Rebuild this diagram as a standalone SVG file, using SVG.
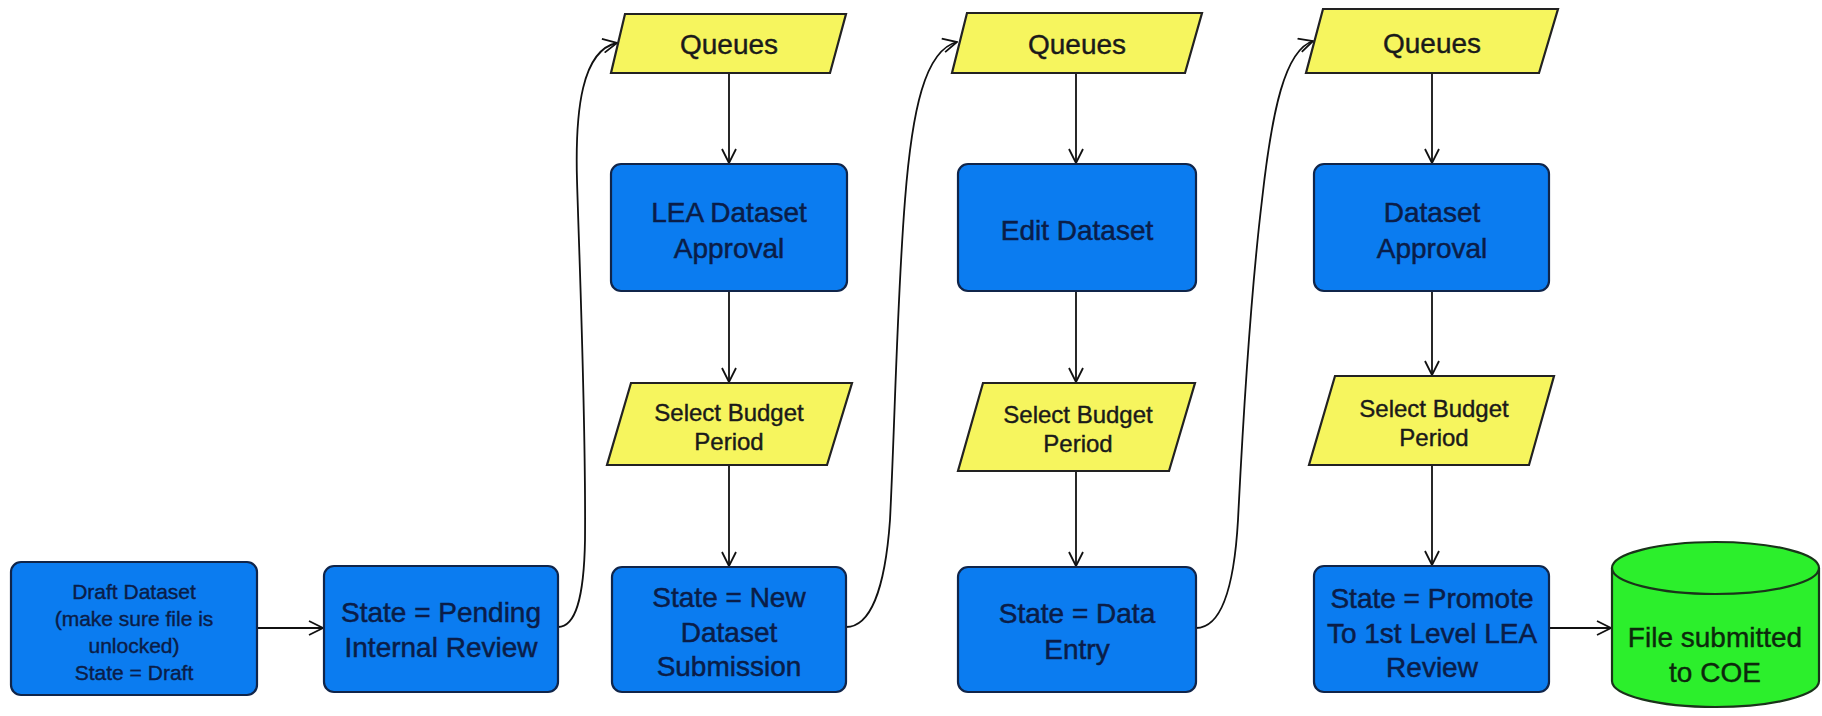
<svg xmlns="http://www.w3.org/2000/svg" width="1822" height="716" viewBox="0 0 1822 716">
<defs>
<marker id="arr" markerUnits="userSpaceOnUse" viewBox="0 0 16 16" refX="15" refY="8" markerWidth="16" markerHeight="16" orient="auto">
<path d="M1,1 L15,8 L1,15" fill="none" stroke="#111" stroke-width="1.8"/>
</marker>
<style>
.box{fill:#0b7cf0;stroke:#10254a;stroke-width:2.2}
.io{fill:#f6f55e;stroke:#222;stroke-width:2.2}
.db{fill:#2cef2c;stroke:#1a331a;stroke-width:2.2}
.t{font-family:"Liberation Sans",Arial,sans-serif;font-size:28px;fill:#0a1d48;stroke:#0a1d48;stroke-width:0.5;text-anchor:middle}
.ts{font-family:"Liberation Sans",Arial,sans-serif;font-size:21px;fill:#0a1d48;stroke:#0a1d48;stroke-width:0.4;text-anchor:middle}
.ty{font-family:"Liberation Sans",Arial,sans-serif;font-size:28px;fill:#1a1a1a;stroke:#1a1a1a;stroke-width:0.4;text-anchor:middle}
.tyy{font-family:"Liberation Sans",Arial,sans-serif;font-size:24px;fill:#1a1a1a;stroke:#1a1a1a;stroke-width:0.4;text-anchor:middle}
.tg{font-family:"Liberation Sans",Arial,sans-serif;font-size:28px;fill:#0c280c;stroke:#0c280c;stroke-width:0.4;text-anchor:middle}
.c{fill:none;stroke:#111;stroke-width:1.8;marker-end:url(#arr)}
</style>
</defs>
<rect width="1822" height="716" fill="#ffffff"/>

<g id="connectors">
<path class="c" d="M257,628 L323,628"/>
<path class="c" d="M558,627 C575,627 584,600 585,540 C586,420 580,280 577,180 C575,110 582,50 617,43"/>
<path class="c" d="M729,73 L729,163"/>
<path class="c" d="M729,291 L729,382"/>
<path class="c" d="M729,465 L729,566"/>
<path class="c" d="M846,627 C870,627 885,590 890,520 C895,420 897,300 905,200 C912,110 925,50 957,42"/>
<path class="c" d="M1076,73 L1076,163"/>
<path class="c" d="M1076,291 L1076,382"/>
<path class="c" d="M1076,471 L1076,566"/>
<path class="c" d="M1196,628 C1220,628 1234,590 1238,520 C1243,420 1250,300 1262,200 C1272,110 1285,50 1313,41"/>
<path class="c" d="M1432,73 L1432,163"/>
<path class="c" d="M1432,291 L1432,375"/>
<path class="c" d="M1432,465 L1432,565"/>
<path class="c" d="M1549,628 L1611,628"/>
</g>

<g id="draft">
<rect class="box" x="11" y="562" width="246" height="133" rx="10"/>
<text class="ts" x="134" y="599">Draft Dataset</text>
<text class="ts" x="134" y="626">(make sure file is</text>
<text class="ts" x="134" y="653">unlocked)</text>
<text class="ts" x="134" y="680">State = Draft</text>
</g>

<g id="pending">
<rect class="box" x="324" y="566" width="234" height="126" rx="10"/>
<text class="t" x="441" y="622">State = Pending</text>
<text class="t" x="441" y="657">Internal Review</text>
</g>

<g id="queues1">
<polygon class="io" points="611,73 830,73 846,14 625,14"/>
<text class="ty" x="729" y="54">Queues</text>
</g>
<g id="lea-approval">
<rect class="box" x="611" y="164" width="236" height="127" rx="10"/>
<text class="t" x="729" y="222">LEA Dataset</text>
<text class="t" x="729" y="258">Approval</text>
</g>
<g id="budget1">
<polygon class="io" points="607,465 827,465 852,383 631,383"/>
<text class="tyy" x="729" y="421">Select Budget</text>
<text class="tyy" x="729" y="450">Period</text>
</g>
<g id="new-submission">
<rect class="box" x="612" y="567" width="234" height="125" rx="10"/>
<text class="t" x="729" y="607">State = New</text>
<text class="t" x="729" y="642">Dataset</text>
<text class="t" x="729" y="676">Submission</text>
</g>

<g id="queues2">
<polygon class="io" points="952,73 1185,73 1202,13 967,13"/>
<text class="ty" x="1077" y="54">Queues</text>
</g>
<g id="edit">
<rect class="box" x="958" y="164" width="238" height="127" rx="10"/>
<text class="t" x="1077" y="240">Edit Dataset</text>
</g>
<g id="budget2">
<polygon class="io" points="958,471 1169,471 1195,383 983,383"/>
<text class="tyy" x="1078" y="423">Select Budget</text>
<text class="tyy" x="1078" y="452">Period</text>
</g>
<g id="data-entry">
<rect class="box" x="958" y="567" width="238" height="125" rx="10"/>
<text class="t" x="1077" y="623">State = Data</text>
<text class="t" x="1077" y="659">Entry</text>
</g>

<g id="queues3">
<polygon class="io" points="1306,73 1539,73 1558,9 1323,9"/>
<text class="ty" x="1432" y="53">Queues</text>
</g>
<g id="dataset-approval">
<rect class="box" x="1314" y="164" width="235" height="127" rx="10"/>
<text class="t" x="1432" y="222">Dataset</text>
<text class="t" x="1432" y="258">Approval</text>
</g>
<g id="budget3">
<polygon class="io" points="1309,465 1529,465 1554,376 1335,376"/>
<text class="tyy" x="1434" y="417">Select Budget</text>
<text class="tyy" x="1434" y="446">Period</text>
</g>
<g id="promote">
<rect class="box" x="1314" y="566" width="235" height="126" rx="10"/>
<text class="t" x="1432" y="608">State = Promote</text>
<text class="t" x="1432" y="643">To 1st Level LEA</text>
<text class="t" x="1432" y="677">Review</text>
</g>

<g id="coe">
<path class="db" d="M1612,568 L1612,681 A103.5,26 0 0 0 1819,681 L1819,568 A103.5,26 0 0 0 1612,568 Z"/>
<path class="db" d="M1612,568 A103.5,26 0 0 0 1819,568"/>
<text class="tg" x="1715" y="647">File submitted</text>
<text class="tg" x="1715" y="682">to COE</text>
</g>
</svg>
